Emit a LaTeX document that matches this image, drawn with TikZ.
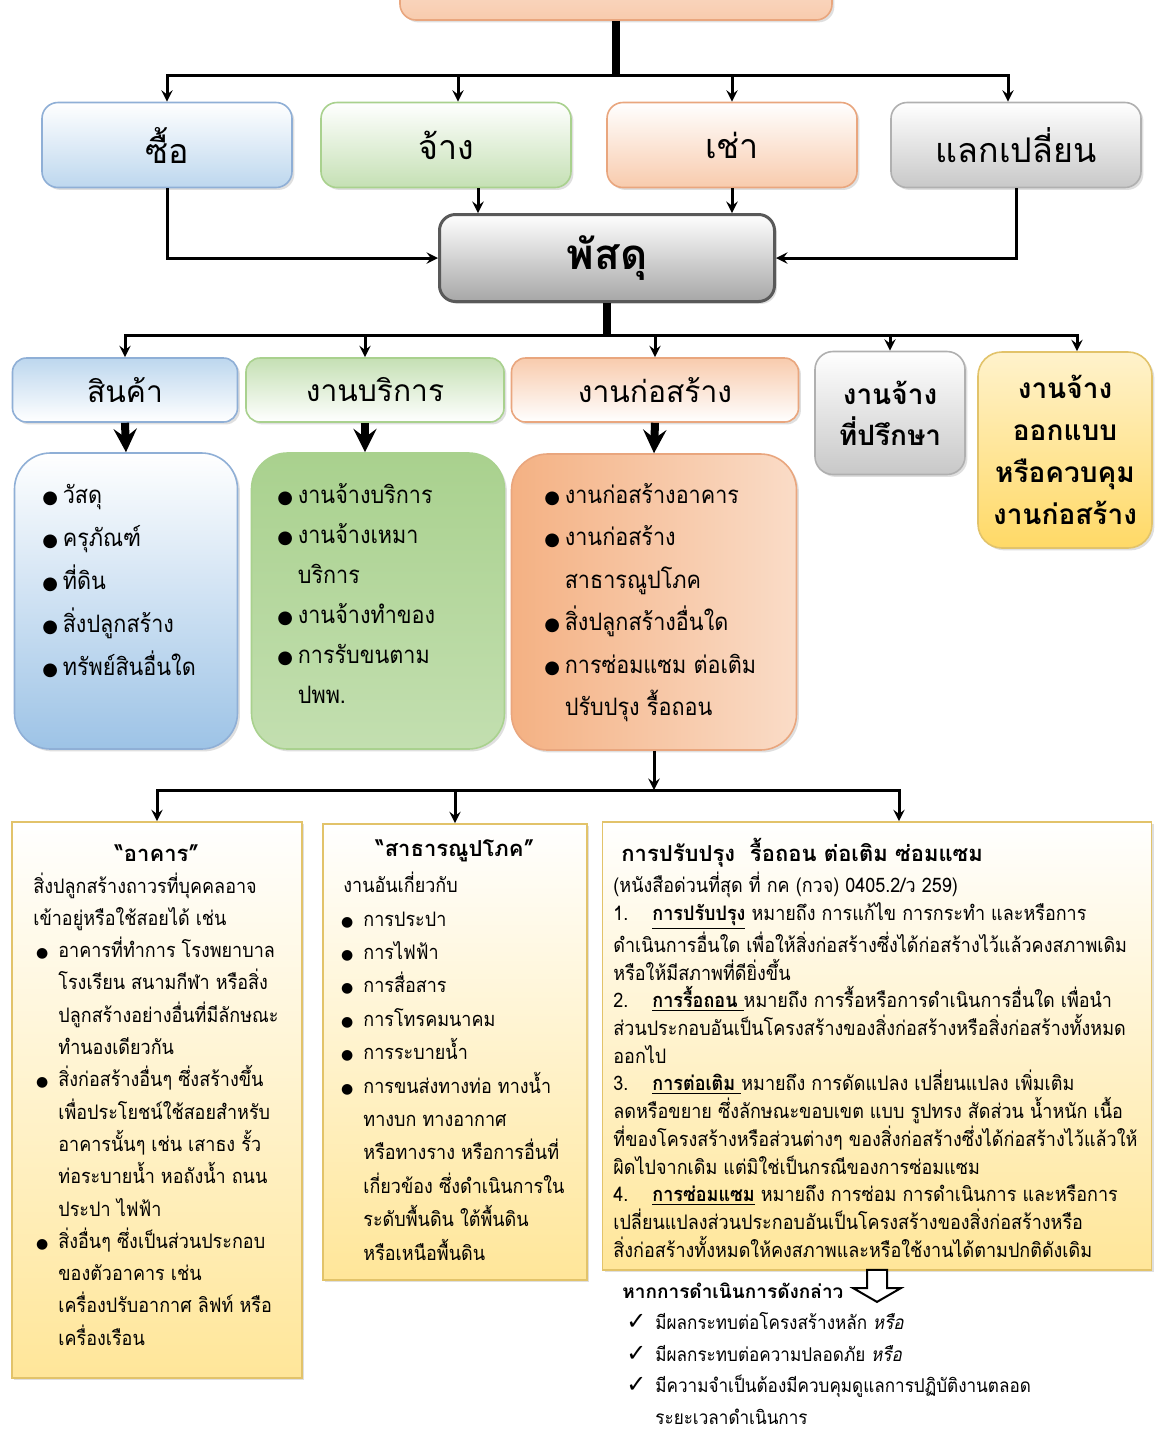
\documentclass[tikz,border=0pt]{standalone}
\usepackage{fontspec}
\setmainfont[Script=Thai]{Loma}
\newfontfamily\bodyfont[Script=Thai,FakeStretch=0.9]{Loma}
\newfontfamily\symfont{DejaVu Sans}
\newfontfamily\thaisl[Script=Thai,FakeStretch=0.9,FakeSlant=0.2]{Loma}
\usepackage{xcolor}
\usepackage{tikz}
\usetikzlibrary{shapes, arrows, positioning, calc, shadows}

\definecolor{orangefill}{HTML}{F8CBAD}
\definecolor{orangeline}{HTML}{E9A67E}
\definecolor{bluefill}{HTML}{BDD7EE}
\definecolor{blueline}{HTML}{8FAFD6}
\definecolor{greenfill}{HTML}{C5E0B4}
\definecolor{greenline}{HTML}{A9D18E}
\definecolor{grayfill}{HTML}{C8C8C8}
\definecolor{grayline}{HTML}{B0B0B0}
\definecolor{supplyfill}{HTML}{A6A6A6}
\definecolor{supplyline}{HTML}{595959}
\definecolor{listblue}{HTML}{9DC3E6}
\definecolor{listgreen}{HTML}{A9D18E}
\definecolor{listorange}{HTML}{F4B183}
\definecolor{yellowfill}{HTML}{FFE699}
\definecolor{yellowline}{HTML}{E2C36A}
\definecolor{designfill}{HTML}{FFD966}

\newcommand{\bul}{\makebox[0.85em][l]{\symfont\small ●}}
\newcommand{\ind}{\makebox[0.85em]{}}
\newcommand{\dbul}[1]{\makebox[#1][r]{{\symfont\scriptsize ●}\hspace{5pt}}}
\newcommand{\dind}[1]{\makebox[#1]{}}
\newcommand{\chk}{\makebox[14.5pt][l]{\symfont\bfseries\fontsize{12}{12}\selectfont ✓}}

\tikzset{
    boxshadow/.style={drop shadow={shadow xshift=1.2pt, shadow yshift=-1.2pt, opacity=0.25}},
    topbox/.style={rectangle, rounded corners=8pt, draw=orangeline, line width=0.8pt, top color=orangefill!60, bottom color=orangefill, minimum width=216pt, minimum height=25pt, boxshadow},
    catbox/.style={rectangle, rounded corners=8pt, line width=0.8pt, minimum width=125pt, minimum height=42.5pt, font=\fontsize{17}{20}\selectfont, boxshadow},
    mainbox/.style={rectangle, rounded corners=8pt, draw=supplyline, line width=1.5pt, top color=white, bottom color=supplyfill, minimum width=167.5pt, minimum height=43.5pt, font=\bfseries\fontsize{21}{24}\selectfont, boxshadow},
    typebox/.style={rectangle, rounded corners=7pt, line width=0.8pt, minimum height=32pt, font=\fontsize{15}{18}\selectfont, boxshadow},
    listbox/.style={rectangle, rounded corners=18pt, line width=0.8pt, minimum height=148pt, boxshadow},
    defbox/.style={rectangle, draw=yellowline, line width=0.8pt, top color=white, bottom color=yellowfill, boxshadow},
    listtext/.style={anchor=north west, inner sep=0pt, align=left, font=\bodyfont\fontsize{12}{21.5}\selectfont},
    deftext/.style={anchor=north west, inner sep=0pt, align=left},
    arrow/.style={->, >=stealth, line width=1.5pt},
    trunk/.style={line width=4pt},
    bigarrow/.style={->, >=stealth, line width=4pt}
}

\begin{document}
\begin{tikzpicture}[x=0.5pt, y=-0.5pt]
    \fill[white] (0,0) rectangle (1155,1432);
    \useasboundingbox (0,0) rectangle (1155,1432);

    \node[topbox] (top) at (616,-5) {};
    \node[catbox, draw=blueline, top color=white, bottom color=bluefill] (buy) at (167,145) {ซื้อ};
    \node[catbox, draw=greenline, top color=white, bottom color=greenfill] (hire) at (446,145) {จ้าง};
    \node[catbox, draw=orangeline, top color=white, bottom color=orangefill] (rent) at (732,145) {เช่า};
    \node[catbox, draw=grayline, top color=white, bottom color=grayfill] (swap) at (1016,145) {แลกเปลี่ยน};
    \node[mainbox] (supply) at (607,258) {พัสดุ};

    \node[typebox, minimum width=112.5pt, draw=blueline, top color=bluefill, bottom color=white] (goods) at (125,390) {สินค้า};
    \node[typebox, minimum width=129pt, draw=greenline, top color=greenfill, bottom color=white] (service) at (375,390) {งานบริการ};
    \node[typebox, minimum width=143.5pt, draw=orangeline, top color=orangefill, bottom color=white] (cons) at (655,390) {งานก่อสร้าง};
    \node[typebox, minimum width=75pt, minimum height=61.5pt, rounded corners=9pt, align=center, draw=grayline, top color=white, bottom color=grayfill, font=\bfseries\fontsize{14}{20.5}\selectfont] (consult) at (890,413) {งานจ้าง\\ที่ปรึกษา};
    \node[typebox, minimum width=87pt, minimum height=98pt, rounded corners=12pt, align=center, draw=yellowline, top color=yellowfill!50, bottom color=designfill, font=\bfseries\fontsize{14}{21}\selectfont] (design) at (1065,450) {งานจ้าง\\ออกแบบ\\หรือควบคุม\\งานก่อสร้าง};

    \node[listbox, minimum width=111.5pt, draw=blueline, top color=white, bottom color=listblue] (goodslist) at (126,601) {};
    \node[listbox, minimum width=126.5pt, draw=greenline, top color=listgreen, bottom color=listgreen!70!white] (servicelist) at (378,601) {};
    \node[listbox, minimum width=142.5pt, draw=orangeline, left color=listorange, right color=listorange!45!white] (conslist) at (654,602) {};

    \node[listtext] (goodsitems) at (42,473) {\strut\bul วัสดุ\\ \bul ครุภัณฑ์\\ \bul ที่ดิน\\ \bul สิ่งปลูกสร้าง\\ \bul ทรัพย์สินอื่นใด};
    \node[listtext, font=\bodyfont\fontsize{12}{20}\selectfont] (serviceitems) at (277,475) {\strut\bul งานจ้างบริการ\\ \bul งานจ้างเหมา\\ \ind บริการ\\ \bul งานจ้างทำของ\\ \bul การรับขนตาม\\ \ind ปพพ.};
    \node[listtext, font=\bodyfont\fontsize{12}{21.25}\selectfont] (consitems) at (544,473) {\strut\bul งานก่อสร้างอาคาร\\ \bul งานก่อสร้าง\\ \ind สาธารณูปโภค\\ \bul สิ่งปลูกสร้างอื่นใด\\ \bul การซ่อมแซม ต่อเติม\\ \ind ปรับปรุง รื้อถอน};

    \node[defbox, minimum width=145pt, minimum height=278pt] (bldg) at (157,1100) {};
    \node[defbox, minimum width=132pt, minimum height=228pt] (util) at (455,1052) {};
    \node[defbox, minimum width=274.5pt, minimum height=224pt] (renov) at (877,1046) {};

    \node[font=\bfseries\fontsize{11}{14}\selectfont] (bldgtitle) at (157,853) {“อาคาร”};
    \node[deftext, font=\bodyfont\fontsize{10}{16.15}\selectfont] (bldgitems) at (33,870) {\strut สิ่งปลูกสร้างถาวรที่บุคคลอาจ\\
        เข้าอยู่หรือใช้สอยได้ เช่น\\
        \dbul{12.5pt}อาคารที่ทำการ โรงพยาบาล\\
        \dind{12.5pt}โรงเรียน สนามกีฬา หรือสิ่ง\\
        \dind{12.5pt}ปลูกสร้างอย่างอื่นที่มีลักษณะ\\
        \dind{12.5pt}ทำนองเดียวกัน\\
        \dbul{12.5pt}สิ่งก่อสร้างอื่นๆ ซึ่งสร้างขึ้น\\
        \dind{12.5pt}เพื่อประโยชน์ใช้สอยสำหรับ\\
        \dind{12.5pt}อาคารนั้นๆ เช่น เสาธง รั้ว\\
        \dind{12.5pt}ท่อระบายน้ำ หอถังน้ำ ถนน\\
        \dind{12.5pt}ประปา ไฟฟ้า\\
        \dbul{12.5pt}สิ่งอื่นๆ ซึ่งเป็นส่วนประกอบ\\
        \dind{12.5pt}ของตัวอาคาร เช่น\\
        \dind{12.5pt}เครื่องปรับอากาศ ลิฟท์ หรือ\\
        \dind{12.5pt}เครื่องเรือน};

    \node[font=\bfseries\fontsize{11}{14}\selectfont] (utiltitle) at (455,851) {“สาธารณูปโภค”};
    \node[deftext, font=\bodyfont\fontsize{10}{16.7}\selectfont] (utilitems) at (343,869) {\strut งานอันเกี่ยวกับ\\
        \dbul{10pt}การประปา\\
        \dbul{10pt}การไฟฟ้า\\
        \dbul{10pt}การสื่อสาร\\
        \dbul{10pt}การโทรคมนาคม\\
        \dbul{10pt}การระบายน้ำ\\
        \dbul{10pt}การขนส่งทางท่อ ทางน้ำ\\
        \dind{10pt}ทางบก ทางอากาศ\\
        \dind{10pt}หรือทางราง หรือการอื่นที่\\
        \dind{10pt}เกี่ยวข้อง ซึ่งดำเนินการใน\\
        \dind{10pt}ระดับพื้นดิน ใต้พื้นดิน\\
        \dind{10pt}หรือเหนือพื้นดิน};

    \node[anchor=west, inner sep=0pt, font=\bfseries\fontsize{11}{14}\selectfont] (renovtitle) at (621,853) {การปรับปรุง\ \ รื้อถอน ต่อเติม ซ่อมแซม};
    \node[deftext, font=\bodyfont\fontsize{10}{13.85}\selectfont] (renovitems) at (613,872) {\strut (หนังสือด่วนที่สุด ที่ กค (กวจ) 0405.2/ว 259)\\
        1.\hspace{1.2em}\underline{\textbf{การปรับปรุง}} หมายถึง การแก้ไข การกระทำ และหรือการ\\
        ดำเนินการอื่นใด เพื่อให้สิ่งก่อสร้างซึ่งได้ก่อสร้างไว้แล้วคงสภาพเดิม\\
        หรือให้มีสภาพที่ดียิ่งขึ้น\\
        2.\hspace{1.2em}\underline{\textbf{การรื้อถอน}\ }หมายถึง การรื้อหรือการดำเนินการอื่นใด เพื่อนำ\\
        ส่วนประกอบอันเป็นโครงสร้างของสิ่งก่อสร้างหรือสิ่งก่อสร้างทั้งหมด\\
        ออกไป\\
        3.\hspace{1.2em}\underline{\textbf{การต่อเติม}\ }หมายถึง การดัดแปลง เปลี่ยนแปลง เพิ่มเติม\\
        ลดหรือขยาย ซึ่งลักษณะขอบเขต แบบ รูปทรง สัดส่วน น้ำหนัก เนื้อ\\
        ที่ของโครงสร้างหรือส่วนต่างๆ ของสิ่งก่อสร้างซึ่งได้ก่อสร้างไว้แล้วให้\\
        ผิดไปจากเดิม แต่มิใช่เป็นกรณีของการซ่อมแซม\\
        4.\hspace{1.2em}\underline{\textbf{การซ่อมแซม}} หมายถึง การซ่อม การดำเนินการ และหรือการ\\
        เปลี่ยนแปลงส่วนประกอบอันเป็นโครงสร้างของสิ่งก่อสร้างหรือ\\
        สิ่งก่อสร้างทั้งหมดให้คงสภาพและหรือใช้งานได้ตามปกติดังเดิม};

    \node[single arrow, draw=black, fill=white, line width=1pt, rotate=-90, minimum height=16pt, inner sep=4.5pt, single arrow head extend=7pt, single arrow tip angle=120] (down) at (877,1283) {};
    \node[anchor=west, inner sep=0pt, font=\bfseries\fontsize{9.5}{12}\selectfont] (cond) at (622,1291) {หากการดำเนินการดังกล่าว};
    \node[deftext, font=\bodyfont\fontsize{9.5}{15.8}\selectfont] (condlist) at (626,1307) {\strut\chk มีผลกระทบต่อโครงสร้างหลัก {\thaisl หรือ}\\
        \chk มีผลกระทบต่อความปลอดภัย {\thaisl หรือ}\\
        \chk มีความจำเป็นต้องมีควบคุมดูแลการปฏิบัติงานตลอด\\
        \makebox[14.5pt]{}ระยะเวลาดำเนินการ};

    \coordinate (busa) at (top.south |- 0,75);
    \draw[trunk] (top.south) -- (busa);
    \draw[arrow] (busa) -| (buy.north);
    \draw[arrow] (busa) -| ([xshift=6pt]hire.north);
    \draw[arrow] (busa) -| (rent.north);
    \draw[arrow] (busa) -| ([xshift=-4pt]swap.north);
    \draw[arrow] (buy.south) |- (supply.west);
    \draw[arrow] ([xshift=16pt]hire.south) -- ([xshift=16pt]hire.south |- supply.north);
    \draw[arrow] (rent.south) -- (rent.south |- supply.north);
    \draw[arrow] (swap.south) |- (supply.east);

    \coordinate (busb) at (supply.south |- 0,335);
    \draw[trunk] (supply.south) -- (busb);
    \draw[arrow] (busb) -| (goods.north);
    \draw[arrow] (busb) -| ([xshift=-5pt]service.north);
    \draw[arrow] (busb) -| (cons.north);
    \draw[arrow] (busb) -| (consult.north);
    \draw[arrow] (busb) -| ([xshift=6pt]design.north);
    \draw[bigarrow] (goods.south) -- (goodslist.north);
    \draw[bigarrow] ([xshift=-5pt]service.south) -- ([xshift=-5pt]service.south |- servicelist.north);
    \draw[bigarrow] (cons.south) -- (conslist.north);

    \coordinate (busc) at (conslist.south |- 0,790);
    \draw[arrow] (conslist.south) -- (busc);
    \draw[arrow] (busc) -| (bldg.north);
    \draw[arrow] (busc) -| (util.north);
    \draw[arrow] (busc) -| ([xshift=11pt]renov.north);
\end{tikzpicture}
\end{document}
